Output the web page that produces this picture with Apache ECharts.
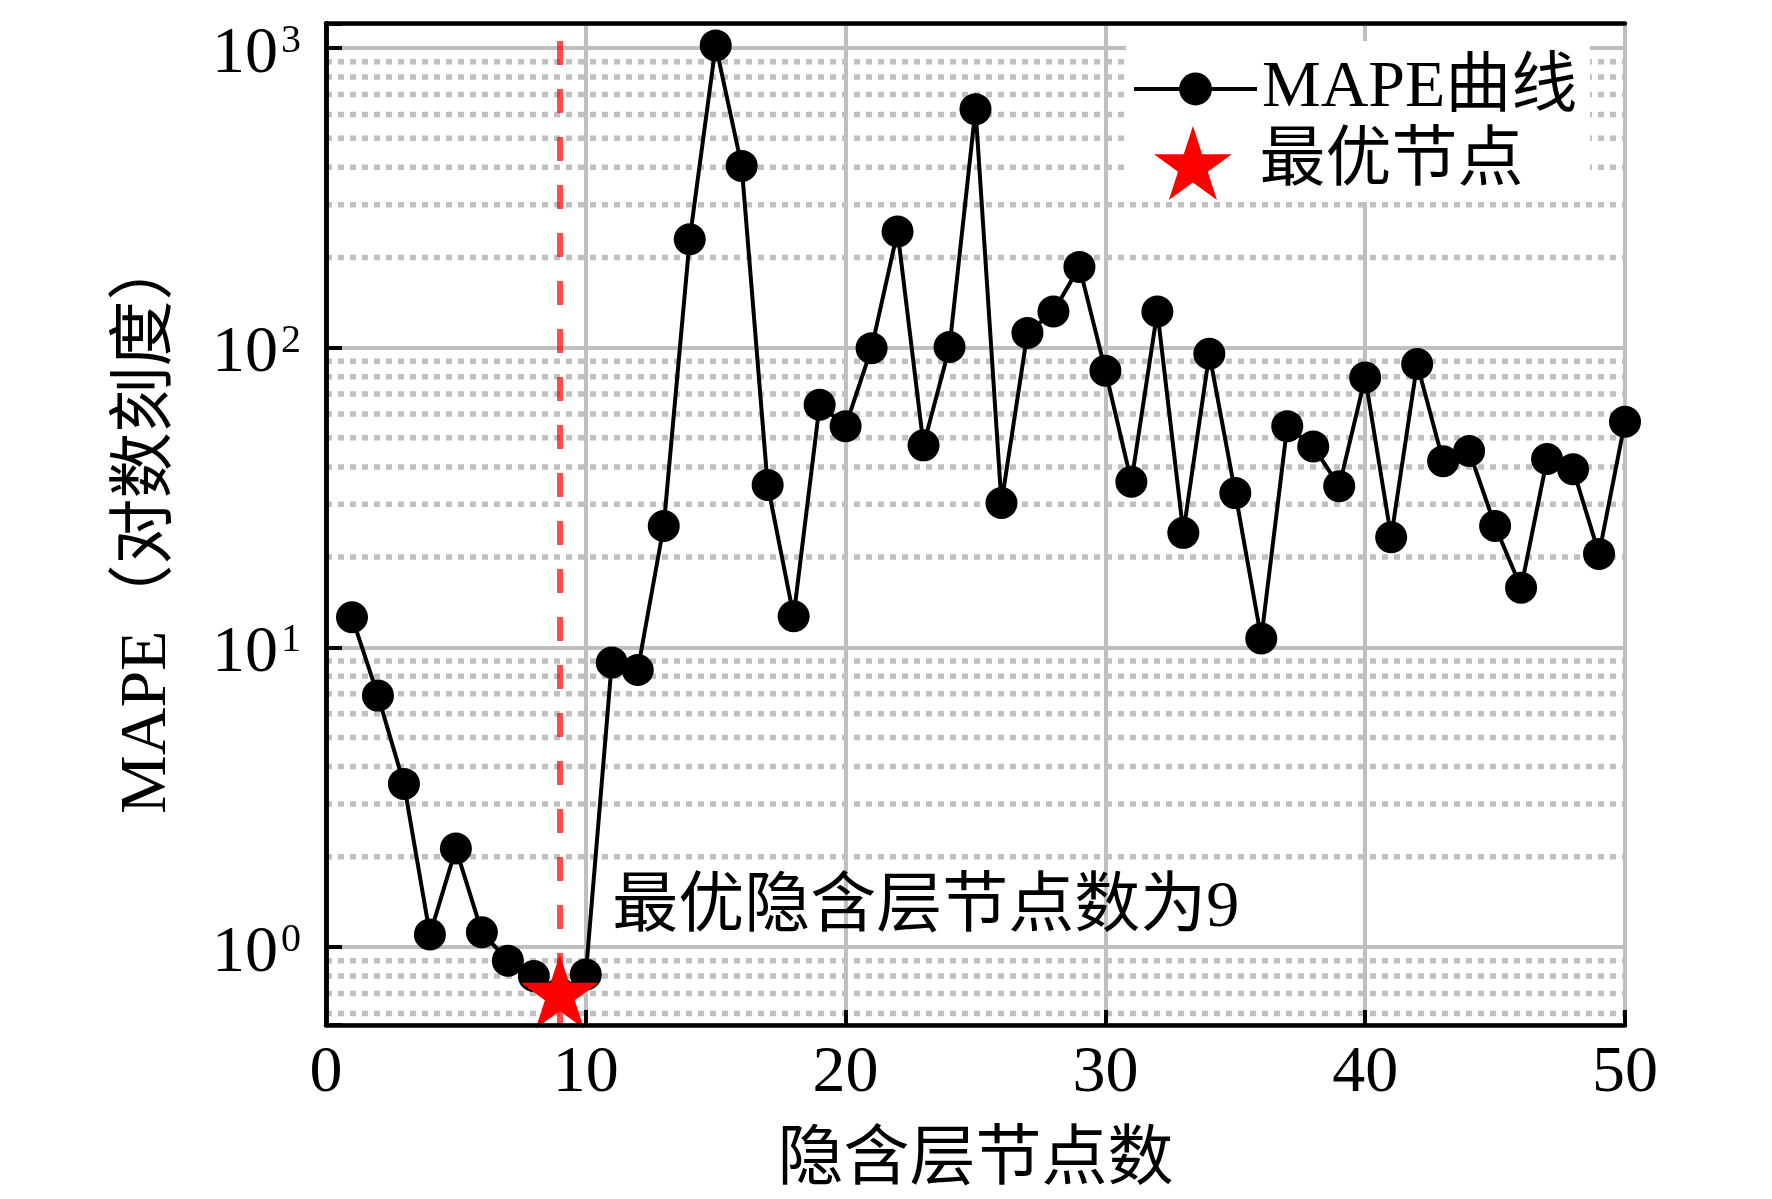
<!DOCTYPE html>
<html>

<head>
    <meta charset="utf-8" />
    <title>MAPE</title>
    <script src="https://cdn.jsdelivr.net/npm/echarts@6.0.0/dist/echarts.min.js"></script>
    <style>
        html, body { margin: 0; padding: 0; background: #fff; }
        #main { width: 1772px; height: 1199px; }
    </style>
</head>

<body>
    <div id="main"></div>
    <script type="text/javascript">
        // 隐含层节点数 1..50 与对应 MAPE
        var nodes = [1, 2, 3, 4, 5, 6, 7, 8, 9, 10,
            11, 12, 13, 14, 15, 16, 17, 18, 19, 20,
            21, 22, 23, 24, 25, 26, 27, 28, 29, 30,
            31, 32, 33, 34, 35, 36, 37, 38, 39, 40,
            41, 42, 43, 44, 45, 46, 47, 48, 49, 50];
        var mape = [12.6, 6.9, 3.5, 1.10, 2.13, 1.12, 0.90, 0.80, 0.70, 0.81,
            8.9, 8.4, 25.4, 230, 1020, 404, 34.8, 12.7, 64.5, 54.7,
            99.6, 244, 47.2, 100.5, 625, 30.3, 112, 132, 186, 83.7,
            35.7, 132, 24.1, 95.4, 32.7, 10.7, 54.7, 46.8, 34.5, 79.5,
            23.3, 88.2, 41.8, 45.2, 25.4, 15.8, 42.5, 39.3, 20.5, 56.6];
        var bestNode = [9, 0.71];
        var annoPos = [11, 1.345];
        var annoText = '最优隐含层节点数为9';

        // 坐标轴范围与次网格线
        var yMin = 0.549, yMax = 1207;
        var xTicks = [0, 10, 20, 30, 40, 50];
        var minorTicks = [0.6, 0.7, 0.8, 0.9,
            2, 3, 4, 5, 6, 7, 8, 9,
            20, 30, 40, 50, 60, 70, 80, 90,
            200, 300, 400, 500, 600, 700, 800, 900];

        var FONT = '"Liberation Serif", "Noto Sans CJK SC", serif';
        var starPath = 'path://M0,-1 L0.2245,-0.309 L0.951,-0.309 L0.3633,0.118 L0.5878,0.809 L0,0.382 L-0.5878,0.809 L-0.3633,0.118 L-0.951,-0.309 L-0.2245,-0.309 Z';

        var lineData = nodes.map(function (n, i) { return [n, mape[i]]; });

        // 次网格：每条水平虚线两个端点，中间用空值断开
        var minorData = [];
        minorTicks.forEach(function (v) {
            minorData.push([xTicks[0], v]);
            minorData.push([xTicks[xTicks.length - 1], v]);
            minorData.push([xTicks[xTicks.length - 1], '-']);
        });

        var myChart = echarts.init(document.getElementById('main'));

        var option = {
            backgroundColor: '#fff',
            animation: false,
            grid: {
                left: 326, right: 147, top: 23.5, bottom: 174,
                containLabel: false, outerBoundsMode: 'none'
            },
            graphic: [{
                type: 'rect',
                silent: true,
                z: 3,
                shape: { x: 1126, y: 41, width: 464, height: 161 },
                style: { fill: '#fff' }
            }],
            legend: [{
                data: ['MAPE曲线'],
                left: 1132, top: 56, padding: 0,
                itemWidth: 123, itemHeight: 41,
                selectedMode: false,
                lineStyle: { color: '#000', width: 4 },
                textStyle: { fontFamily: FONT, fontSize: 66, lineHeight: 66, color: '#000' }
            }, {
                data: [{ name: '最优节点', icon: starPath }],
                left: 1154, top: 126, padding: 0,
                itemWidth: 123, itemHeight: 74,
                symbolKeepAspect: true,
                selectedMode: false,
                itemStyle: { color: '#ff0000', opacity: 1 },
                textStyle: { fontFamily: FONT, fontSize: 66, lineHeight: 66, color: '#000' }
            }],
            xAxis: [{
                type: 'value', position: 'bottom',
                min: 0, max: 50, interval: 10,
                name: '隐含层节点数', nameLocation: 'middle', nameGap: 104,
                nameTextStyle: { fontFamily: FONT, fontSize: 66, color: '#000' },
                axisLine: { show: false },
                axisTick: { show: false },
                axisLabel: { fontFamily: FONT, fontSize: 66, color: '#000', margin: 16 },
                splitLine: { show: true, lineStyle: { color: '#bfbfbf', width: 4 } }
            }, {
                type: 'value', position: 'bottom', z: 10,
                min: 0, max: 50, interval: 10,
                axisLine: { show: true, lineStyle: { color: '#000', width: 4.5 } },
                axisTick: { show: true, inside: true, length: 15, lineStyle: { color: '#000', width: 4 } },
                axisLabel: { show: false },
                splitLine: { show: false }
            }, {
                type: 'value', position: 'top', z: 10,
                min: 0, max: 50,
                axisLine: { show: true, lineStyle: { color: '#000', width: 4.5 } },
                axisTick: { show: false },
                axisLabel: { show: false },
                splitLine: { show: false }
            }],
            yAxis: [{
                type: 'log', logBase: 10, position: 'left',
                min: yMin, max: yMax, splitNumber: 3,
                name: 'MAPE（对数刻度）', nameLocation: 'middle', nameRotate: 90, nameGap: 145,
                nameTextStyle: { fontFamily: FONT, fontSize: 66, color: '#000' },
                axisLine: { show: false },
                axisTick: { show: false },
                axisLabel: {
                    margin: 25,
                    padding: [13, 0, 0, 0],
                    formatter: function (v) {
                        var e = Math.log10(v);
                        var r = Math.round(e);
                        if (Math.abs(e - r) > 1e-6) { return ''; }
                        return '{b|10}{s|' + r + '}';
                    },
                    rich: {
                        b: { fontFamily: FONT, fontSize: 66, lineHeight: 66, color: '#000', verticalAlign: 'bottom' },
                        s: { fontFamily: FONT, fontSize: 40, lineHeight: 40, color: '#000', verticalAlign: 'top', padding: [0, 0, 0, 3] }
                    }
                },
                splitLine: { show: true, lineStyle: { color: '#bfbfbf', width: 4 } }
            }, {
                type: 'log', logBase: 10, position: 'left', z: 10,
                min: yMin, max: yMax, splitNumber: 3,
                axisLine: { show: true, lineStyle: { color: '#000', width: 4.5 } },
                axisTick: { show: true, inside: true, length: 16, lineStyle: { color: '#000', width: 4 } },
                axisLabel: { show: false },
                splitLine: { show: false }
            }, {
                type: 'value', position: 'right', z: 10,
                min: 0, max: 1,
                axisLine: { show: true, lineStyle: { color: '#000', width: 4.5 } },
                axisTick: { show: false },
                axisLabel: { show: false },
                splitLine: { show: false }
            }],
            series: [{
                name: 'minorGrid',
                type: 'line',
                xAxisIndex: 0, yAxisIndex: 0,
                data: minorData,
                z: 1,
                silent: true,
                symbol: 'none',
                showSymbol: false,
                connectNulls: false,
                lineStyle: { color: '#c0c0c0', width: 5.5, type: [6, 6] }
            }, {
                name: 'MAPE曲线',
                type: 'line',
                xAxisIndex: 0, yAxisIndex: 0,
                data: lineData,
                z: 2,
                symbol: 'circle',
                symbolSize: 32,
                showSymbol: true,
                lineStyle: { color: '#000', width: 4 },
                itemStyle: { color: '#000' },
                markPoint: {
                    silent: true,
                    symbol: 'circle',
                    symbolSize: 1,
                    itemStyle: { color: 'rgba(0,0,0,0)' },
                    label: {
                        show: true, position: 'right', distance: 0,
                        fontFamily: FONT, fontSize: 66, color: '#000',
                        formatter: annoText
                    },
                    data: [{ coord: annoPos }]
                }
            }, {
                name: '最优节点',
                type: 'scatter',
                xAxisIndex: 0, yAxisIndex: 0,
                data: [bestNode],
                z: 3,
                symbol: starPath,
                symbolSize: [78, 74],
                itemStyle: { color: '#ff0000', opacity: 1 },
                markLine: {
                    silent: true,
                    symbol: 'none',
                    label: { show: false },
                    lineStyle: { color: 'rgba(255,0,0,0.7)', width: 6, type: [24, 24] },
                    data: [{ xAxis: bestNode[0] }]
                }
            }]
        };

        myChart.setOption(option);
    </script>
</body>

</html>
